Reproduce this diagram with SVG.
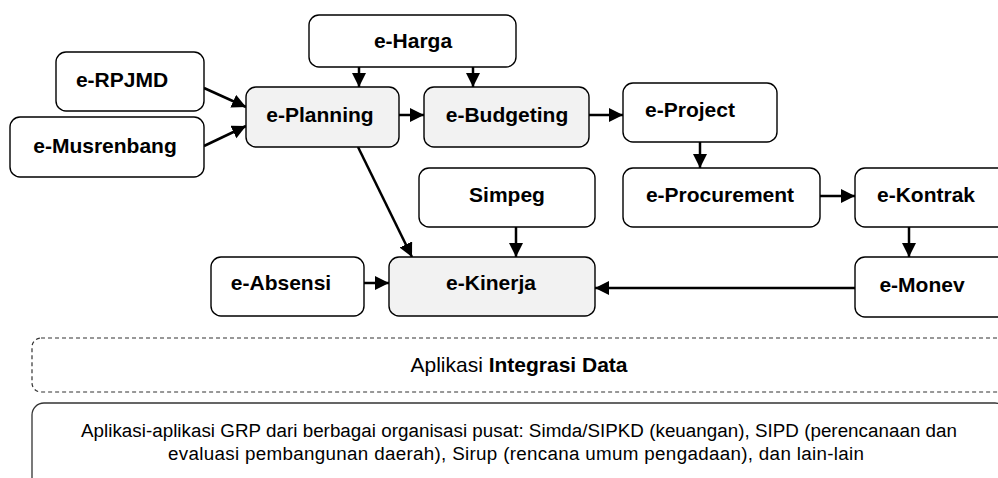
<svg xmlns="http://www.w3.org/2000/svg" width="998" height="478" viewBox="0 0 998 478">
  <defs>
    <marker id="arrow" markerUnits="userSpaceOnUse" markerWidth="16" markerHeight="16" refX="14" refY="7" orient="auto">
      <path d="M0,0 L14,7 L0,14 z" fill="#000"/>
    </marker>
    <style>
      .box { fill: #fff; stroke: #000; stroke-width: 1.4; }
      .hub { fill: #f2f2f2; stroke: #000; stroke-width: 1.4; }
      .lbl { font-family: "Liberation Sans", Arial, sans-serif; font-weight: bold; font-size: 21px; fill: #000; text-anchor: middle; }
      .link { stroke: #000; stroke-width: 2.5; fill: none; marker-end: url(#arrow); }
      .band { font-family: "Liberation Sans", Arial, sans-serif; fill: #000; text-anchor: middle; }
    </style>
  </defs>
  <rect width="998" height="478" fill="#fff"/>

  <!-- connectors -->
  <g id="connectors">
    <line class="link" x1="204" y1="88" x2="246" y2="107"/>
    <line class="link" x1="204" y1="146" x2="246" y2="126"/>
    <line class="link" x1="359" y1="67" x2="359" y2="87"/>
    <line class="link" x1="473" y1="67" x2="473" y2="87"/>
    <line class="link" x1="399" y1="115" x2="424" y2="115"/>
    <line class="link" x1="589" y1="115" x2="623" y2="115"/>
    <line class="link" x1="700" y1="142" x2="700" y2="168"/>
    <line class="link" x1="820" y1="196" x2="855" y2="196"/>
    <line class="link" x1="909" y1="227" x2="909" y2="257"/>
    <line class="link" x1="855" y1="288" x2="595" y2="288"/>
    <line class="link" x1="358" y1="147" x2="412" y2="257"/>
    <line class="link" x1="516" y1="227" x2="516" y2="257"/>
    <line class="link" x1="364" y1="283" x2="389" y2="283"/>
  </g>

  <g id="e-rpjmd">
    <rect class="box" x="56" y="52" width="148" height="59" rx="10"/>
    <text class="lbl" x="122" y="87">e-RPJMD</text>
  </g>
  <g id="e-musrenbang">
    <rect class="box" x="10" y="117" width="194" height="60" rx="10"/>
    <text class="lbl" x="105" y="153">e-Musrenbang</text>
  </g>
  <g id="e-planning">
    <rect class="hub" x="246" y="87" width="153" height="60" rx="10"/>
    <text class="lbl" x="320" y="122">e-Planning</text>
  </g>
  <g id="e-harga">
    <rect class="box" x="309" y="15" width="207" height="52" rx="10"/>
    <text class="lbl" x="413" y="48">e-Harga</text>
  </g>
  <g id="e-budgeting">
    <rect class="hub" x="424" y="87" width="165" height="60" rx="10"/>
    <text class="lbl" x="507" y="122">e-Budgeting</text>
  </g>
  <g id="e-project">
    <rect class="box" x="623" y="83" width="154" height="59" rx="10"/>
    <text class="lbl" x="690" y="117">e-Project</text>
  </g>
  <g id="e-procurement">
    <rect class="box" x="623" y="168" width="197" height="59" rx="10"/>
    <text class="lbl" x="720" y="202">e-Procurement</text>
  </g>
  <g id="e-kontrak">
    <rect class="box" x="855" y="168" width="160" height="59" rx="10"/>
    <text class="lbl" x="926" y="202">e-Kontrak</text>
  </g>
  <g id="simpeg">
    <rect class="box" x="419" y="168" width="176" height="59" rx="10"/>
    <text class="lbl" x="507" y="202">Simpeg</text>
  </g>
  <g id="e-absensi">
    <rect class="box" x="211" y="257" width="153" height="59" rx="10"/>
    <text class="lbl" x="281" y="290">e-Absensi</text>
  </g>
  <g id="e-kinerja">
    <rect class="hub" x="389" y="257" width="206" height="59" rx="10"/>
    <text class="lbl" x="491" y="290">e-Kinerja</text>
  </g>
  <g id="e-monev">
    <rect class="box" x="855" y="257" width="160" height="60" rx="10"/>
    <text class="lbl" x="922" y="292">e-Monev</text>
  </g>

  <!-- integration layer -->
  <g id="integrasi-data">
    <rect x="32" y="338" width="975" height="54" rx="9" fill="#fff" stroke="#333" stroke-width="1.2" stroke-dasharray="4 3"/>
    <text class="band" x="519" y="372" font-size="21">Aplikasi <tspan font-weight="bold">Integrasi Data</tspan></text>
  </g>

  <!-- central GRP applications -->
  <g id="grp-pusat">
    <rect x="32" y="403" width="975" height="100" rx="12" fill="#fff" stroke="#333" stroke-width="1.3"/>
    <text class="band" x="519" y="437" font-size="18.8" textLength="876" lengthAdjust="spacing">Aplikasi-aplikasi GRP dari berbagai organisasi pusat: Simda/SIPKD (keuangan), SIPD (perencanaan dan</text>
    <text class="band" x="516" y="460" font-size="18.8" textLength="696" lengthAdjust="spacing">evaluasi pembangunan daerah), Sirup (rencana umum pengadaan), dan lain-lain</text>
  </g>
</svg>
